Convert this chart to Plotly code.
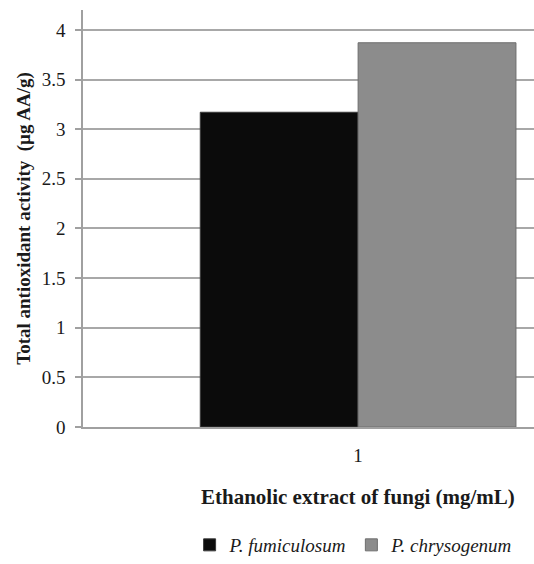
import plotly.graph_objects as go

categories = [1]
series_names = ["P. fumiculosum", "P. chrysogenum"]
fumiculosum = [3.17]
chrysogenum = [3.87]
y_ticks = [0, 0.5, 1, 1.5, 2, 2.5, 3, 3.5, 4]
y_tick_labels = ["0", "0.5", "1", "1.5", "2", "2.5", "3", "3.5", "4"]

serif = "Liberation Serif"

fig = go.Figure()
fig.add_trace(go.Bar(x=categories, y=fumiculosum, name=series_names[0],
                     marker=dict(color="#0b0b0b", line=dict(color="#3a3a3a", width=1))))
fig.add_trace(go.Bar(x=categories, y=chrysogenum, name=series_names[1],
                     marker=dict(color="#8c8c8c", line=dict(color="#6e6e6e", width=1))))

fig.update_layout(
    width=534, height=564,
    margin=dict(l=83, r=0, t=10, b=132),
    paper_bgcolor="white", plot_bgcolor="white",
    barmode="group", bargap=0.30, bargroupgap=0,
    font=dict(family=serif, color="#1a1a1a", size=19),
    showlegend=True,
    legend=dict(orientation="h", x=0.6, xanchor="center", y=-0.284, yanchor="middle",
                font=dict(family=serif, size=19, style="italic"),
                itemwidth=30, traceorder="normal"),
    xaxis=dict(
        range=[0.39, 1.39], tickvals=categories, ticktext=["1"],
        showgrid=False, showline=True, linecolor="#a0a0a0", linewidth=1.5,
        ticks="", tickfont=dict(family=serif, size=19), ticklabelstandoff=10,
        zeroline=False,
    ),
    yaxis=dict(
        range=[0, 4.2], tickvals=y_ticks, ticktext=y_tick_labels,
        showgrid=True, gridcolor="#a8a8a8", gridwidth=1.5,
        showline=True, linecolor="#a0a0a0", linewidth=1.5,
        ticks="outside", ticklen=6, tickcolor="#a0a0a0", tickwidth=1.5,
        tickfont=dict(family=serif, size=19), ticklabelstandoff=6,
        zeroline=False,
        title=dict(text="<b>Total antioxidant activity  (µg AA/g)</b>",
                   font=dict(family=serif, size=19), standoff=6),
    ),
)

fig.add_annotation(x=1, xref="x", y=-0.1667, yref="paper",
                   text="<b>Ethanolic extract of fungi (mg/mL)</b>",
                   showarrow=False, font=dict(family=serif, size=21, color="#1a1a1a"),
                   xanchor="center", yanchor="middle")

fig.write_html(
    "out.html",
    config={"displayModeBar": False},
    post_script="document.body.style.margin='0';document.body.style.overflow='hidden';",
)
